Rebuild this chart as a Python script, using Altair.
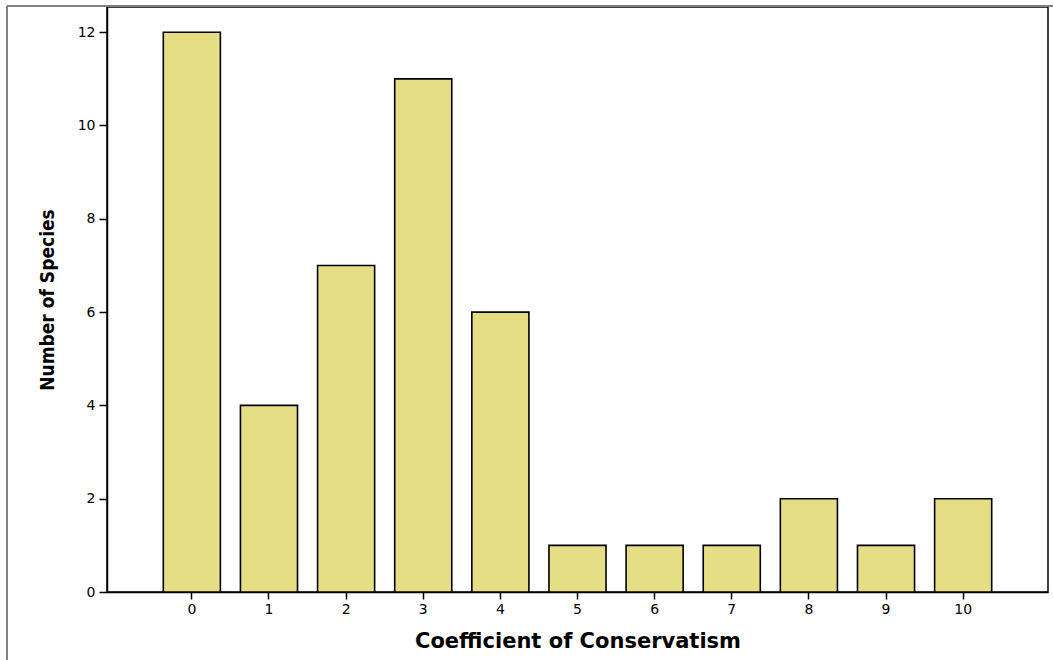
import altair as alt
import pandas as pd

categories = ["0", "1", "2", "3", "4", "5", "6", "7", "8", "9", "10"]
counts = [12, 4, 7, 11, 6, 1, 1, 1, 2, 1, 2]

df = pd.DataFrame({"coef": categories, "count": counts})

bars = alt.Chart(df).mark_bar(
    color="#E5DE85", stroke="#000000", strokeWidth=1.6
).encode(
    x=alt.X("coef:N", sort=categories,
            scale=alt.Scale(paddingInner=0.26, paddingOuter=0.73),
            axis=alt.Axis(title="Coefficient of Conservatism", labelAngle=0,
                          labelFont="DejaVu Sans", labelFontSize=14, labelColor="#000",
                          labelPadding=3, tickSize=7, tickColor="#000", tickWidth=1.5,
                          domainColor="#000", domainWidth=1.5,
                          titleFont="DejaVu Sans", titleFontSize=21, titleFontWeight="bold",
                          titleColor="#000", titlePadding=14)),
    y=alt.Y("count:Q", scale=alt.Scale(domain=[0, 12.54], nice=False),
            axis=alt.Axis(title="Number of Species", values=[0, 2, 4, 6, 8, 10, 12],
                          grid=False, labelFont="DejaVu Sans", labelFontSize=14,
                          labelColor="#000", labelPadding=4, tickSize=8, tickColor="#000",
                          tickWidth=1.5, domainColor="#000", domainWidth=1.5,
                          titleFont="DejaVu Sans Condensed, Roboto Condensed, Liberation Sans",
                          titleFontSize=19,
                          titleFontWeight="bold", titleColor="#000", titlePadding=20)),
)

frame_left = alt.Chart(df).mark_rule(color="#808080", strokeWidth=2).encode(
    x=alt.value(-100), y=alt.value(-1), y2=alt.value(660)
)
frame_top = alt.Chart(df).mark_rule(color="#808080", strokeWidth=2).encode(
    x=alt.value(-100), x2=alt.value(950), y=alt.value(-1)
)

chart = alt.layer(bars, frame_left, frame_top).properties(
    width=941, height=585,
    padding={"left": 107, "top": 7, "right": 5, "bottom": 68},
    autosize=alt.AutoSizeParams(type="none"),
).configure_view(stroke="#000000", strokeWidth=1.5)

chart.save("out.html", embed_options={"renderer": "svg", "actions": False})
